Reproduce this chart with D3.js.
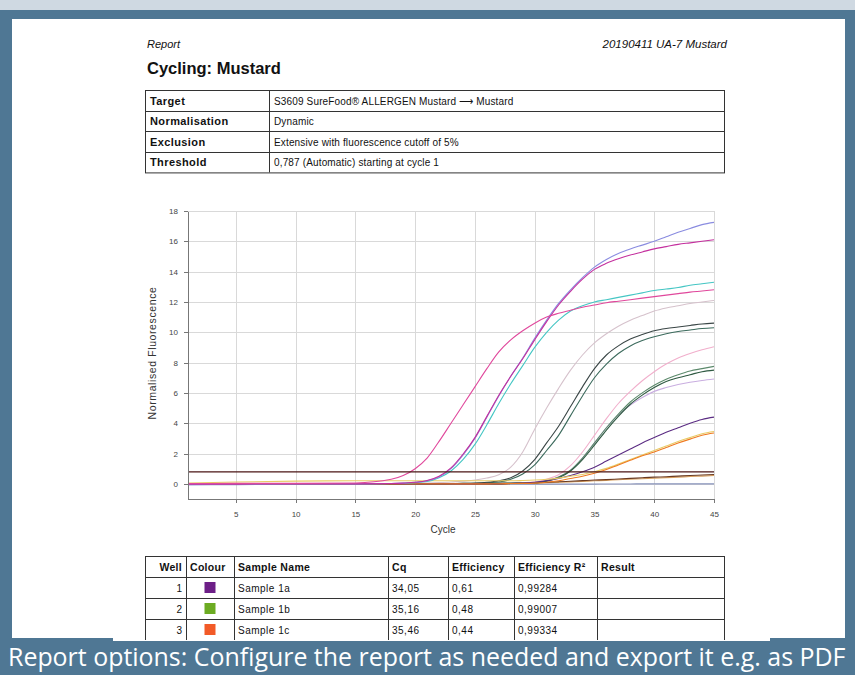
<!DOCTYPE html>
<head>
<meta charset="utf-8">
<script src="https://cdn.jsdelivr.net/npm/d3@7"></script>
<style>
body { margin: 0; background: #cfd9e2; }
svg { display: block; }
.rep { font-family: "Liberation Sans", Arial, sans-serif; fill: #111; }
.axis path, .axis line { stroke: #777; shape-rendering: crispEdges; }
.axis text { fill: #444; font: 8px "Liberation Sans", Arial, sans-serif; }
.grid line { stroke: #d9d9d9; shape-rendering: crispEdges; }
.curve { fill: none; stroke-width: 1.1px; }
</style>
</head>
<body>
<div id="chart"></div>
<script>
var cycles = [1,5,10,15,18,19,20,21,22,23,24,25,26,27,28,29,30,31,32,33,34,35,36,37,38,39,40,41,42,43,44,45];

var blueBase   = [-0.06,-0.05,-0.04,-0.03,-0.03,-0.03,-0.03,-0.03,-0.03,-0.03,-0.03,-0.03,-0.03,-0.03,-0.03,-0.03,-0.02,-0.02,-0.02,-0.02,-0.02,-0.02,-0.01,-0.01,-0.01,0,0,0,0,0,0,0];
var yellowLine = [0.05,0.12,0.18,0.2,0.2,0.2,0.2,0.2,0.2,0.2,0.2,0.2,0.2,0.2,0.2,0.22,0.25,0.3,0.38,0.5,0.62,0.8,1.02,1.3,1.6,1.9,2.2,2.5,2.8,3.05,3.3,3.45];
var tanLow     = [0,0,0,0,0,0,0,0,0,0,0,0,0,0,0.01,0.03,0.05,0.07,0.1,0.13,0.16,0.2,0.23,0.27,0.3,0.34,0.37,0.41,0.44,0.48,0.51,0.55];
var brownLow   = [0,0,0,0,0,0,0,0,0,0,0,0,0,0,0.02,0.04,0.07,0.1,0.14,0.17,0.21,0.25,0.28,0.32,0.36,0.4,0.44,0.47,0.51,0.55,0.58,0.62];
var pinkEarly  = [0.02,0.03,0.03,0.06,0.3,0.55,1.0,1.7,2.8,4.0,5.2,6.4,7.6,8.7,9.5,10.1,10.6,11.0,11.25,11.45,11.65,11.8,11.95,12.05,12.15,12.25,12.35,12.45,12.55,12.65,12.72,12.8];
var blueLav    = [-0.05,-0.03,0,0,0.02,0.05,0.1,0.2,0.45,1.0,1.9,3.0,4.4,5.8,7.1,8.3,9.6,10.8,11.9,12.8,13.6,14.3,14.8,15.2,15.5,15.75,16.0,16.3,16.6,16.85,17.1,17.25];
var magenta    = [-0.03,-0.02,0,0,0.02,0.05,0.1,0.22,0.5,1.05,1.95,3.05,4.45,5.85,7.1,8.25,9.5,10.7,11.8,12.7,13.5,14.15,14.55,14.85,15.1,15.3,15.5,15.65,15.8,15.9,16.0,16.1];
var cyan       = [0,0,0,0,0.02,0.04,0.08,0.15,0.4,0.85,1.6,2.6,3.9,5.3,6.6,7.8,9.0,10.0,10.8,11.4,11.75,12.0,12.15,12.3,12.45,12.6,12.75,12.85,12.95,13.1,13.2,13.3];
var lightGrey  = [0,0,0,0,0,0,0.02,0.05,0.08,0.12,0.18,0.25,0.38,0.6,1.1,2.1,3.6,5.0,6.3,7.5,8.5,9.3,9.9,10.4,10.8,11.1,11.4,11.6,11.75,11.9,12.0,12.1];
var darkSlate  = [0,0,0,0,0,0,0,0,0.01,0.02,0.03,0.05,0.1,0.2,0.4,0.85,1.6,2.7,3.8,5.1,6.4,7.6,8.5,9.1,9.55,9.85,10.1,10.25,10.35,10.45,10.55,10.6];
var darkTeal   = [0,0,0,0,0,0,0,0,0.01,0.02,0.03,0.04,0.07,0.12,0.3,0.65,1.25,2.2,3.2,4.5,5.8,7.0,7.9,8.6,9.1,9.45,9.7,9.9,10.05,10.15,10.25,10.3];
var lightPink  = [0,0,0,0,0,0,0,0,0,0,0.01,0.02,0.03,0.04,0.06,0.08,0.12,0.3,0.6,1.2,2.1,3.2,4.3,5.3,6.1,6.8,7.4,7.9,8.3,8.6,8.85,9.05];
var greyGreen  = [0,0,0,0,0,0,0,0,0,0,0.01,0.02,0.03,0.04,0.05,0.06,0.08,0.2,0.45,0.9,1.7,2.7,3.7,4.6,5.4,6.0,6.5,6.9,7.2,7.45,7.6,7.75];
var darkGreen  = [0,0,0,0,0,0,0,0,0,0,0.01,0.02,0.03,0.03,0.04,0.05,0.06,0.18,0.4,0.85,1.6,2.55,3.55,4.45,5.25,5.85,6.35,6.75,7.0,7.2,7.4,7.5];
var lavender   = [0,0,0,0,0,0,0,0,0,0,0.01,0.02,0.03,0.04,0.05,0.06,0.08,0.2,0.45,0.9,1.7,2.7,3.7,4.55,5.2,5.7,6.1,6.35,6.55,6.7,6.82,6.92];
var purple     = [0,0,0,0,0,0,0,0,0,0,0,0,0.01,0.01,0.02,0.05,0.1,0.2,0.35,0.55,0.8,1.1,1.5,1.9,2.3,2.7,3.05,3.4,3.7,4.0,4.25,4.4];
var orange     = [0,0,0,0,0,0,0,0,0,0,0,0,0,0.01,0.02,0.03,0.05,0.1,0.2,0.35,0.5,0.7,0.95,1.25,1.55,1.85,2.1,2.4,2.7,2.95,3.2,3.35];

var threshold = 0.787;
var xTicks = [5,10,15,20,25,30,35,40,45];
var yTicks = [0,2,4,6,8,10,12,14,16,18];

var infoLabels = ["Target", "Normalisation", "Exclusion", "Threshold"];
var infoValues = ["S3609 SureFood\u00AE ALLERGEN Mustard \u27F6 Mustard", "Dynamic",
                  "Extensive with fluorescence cutoff of 5%", "0,787 (Automatic) starting at cycle 1"];

var headers = ["Well", "Colour", "Sample Name", "Cq", "Efficiency", "Efficiency R\u00B2", "Result"];
var wells = [1, 2, 3];
var sampleColours = ["#6d1f87", "#6cab22", "#f25a28"];
var sampleNames = ["Sample 1a", "Sample 1b", "Sample 1c"];
var cqs = ["34,05", "35,16", "35,46"];
var effs = ["0,61", "0,48", "0,44"];
var effR2 = ["0,99284", "0,99007", "0,99334"];

var caption = "Report options: Configure the report as needed and export it e.g. as PDF";

// draw order: back to front
var series = [
  {values: blueBase,   color: "#8792bb"},
  {values: tanLow,     color: "#d8a060"},
  {values: brownLow,   color: "#6b3b22"},
  {values: lightGrey,  color: "#d6c2cc"},
  {values: lavender,   color: "#c9aee0"},
  {values: lightPink,  color: "#f1afcc"},
  {values: greyGreen,  color: "#5c8a6c"},
  {values: darkGreen,  color: "#2f5a42"},
  {values: darkTeal,   color: "#3b6a5c"},
  {values: darkSlate,  color: "#3a4646"},
  {values: purple,     color: "#5b2c83"},
  {values: yellowLine, color: "#e8cc66"},
  {values: orange,     color: "#ef7a22"},
  {values: cyan,       color: "#45c6c4"},
  {values: blueLav,    color: "#8a8ce0"},
  {values: magenta,    color: "#c4309e"},
  {values: pinkEarly,  color: "#e0489c"}
];

var W = 855, H = 675;
var svg = d3.select("#chart").append("svg").attr("width", W).attr("height", H);

// frame
svg.append("rect").attr("x", 0).attr("y", 10).attr("width", W).attr("height", H - 10).attr("fill", "#4f7794");
svg.append("rect").attr("x", 12).attr("y", 19).attr("width", 833).attr("height", 619).attr("fill", "#fff");
svg.append("rect").attr("x", 113).attr("y", 636).attr("width", 657).attr("height", 5).attr("fill", "#fff");

// header
svg.append("text").attr("class", "rep").attr("x", 147).attr("y", 48)
    .style("font-size", "11px").style("font-style", "italic").text("Report");
svg.append("text").attr("class", "rep").attr("x", 727).attr("y", 48).attr("text-anchor", "end")
    .style("font-size", "11.5px").style("font-style", "italic").text("20190411 UA-7 Mustard");
svg.append("text").attr("class", "rep").attr("x", 147).attr("y", 74)
    .style("font-size", "16.5px").style("font-weight", "bold").text("Cycling: Mustard");

// info table
var infoTop = 90, infoRow = 20.6, infoLeft = 145, infoRight = 724, infoDiv = 269;
var info = svg.append("g");
info.append("rect").attr("x", infoLeft + 0.5).attr("y", infoTop + 0.5)
    .attr("width", infoRight - infoLeft).attr("height", infoRow * infoLabels.length)
    .attr("fill", "none").attr("stroke", "#333");
info.append("line").attr("x1", infoDiv + 0.5).attr("x2", infoDiv + 0.5)
    .attr("y1", infoTop).attr("y2", infoTop + infoRow * infoLabels.length).attr("stroke", "#333");
infoLabels.forEach(function(l, i) {
  var y0 = infoTop + infoRow * i;
  if (i > 0) info.append("line").attr("x1", infoLeft).attr("x2", infoRight)
      .attr("y1", Math.round(y0) + 0.5).attr("y2", Math.round(y0) + 0.5).attr("stroke", "#333");
  info.append("text").attr("class", "rep").attr("x", 150).attr("y", y0 + 14.5)
      .style("font-size", "11px").style("font-weight", "bold").style("letter-spacing", "0.4px").text(l);
  info.append("text").attr("class", "rep").attr("x", 274).attr("y", y0 + 14.5)
      .style("font-size", "10px").style("letter-spacing", "0.15px").text(infoValues[i]);
});

// chart
var x = d3.scaleLinear().domain([1, 45]).range([188, 714]);
var y = d3.scaleLinear().domain([-1, 18]).range([499, 211]);

var grid = svg.append("g").attr("class", "grid");
grid.selectAll(".gy").data(yTicks).enter().append("line")
    .attr("x1", x(1)).attr("x2", x(45))
    .attr("y1", function(d) { return Math.round(y(d)) + 0.5; })
    .attr("y2", function(d) { return Math.round(y(d)) + 0.5; });
grid.selectAll(".gx").data(xTicks).enter().append("line")
    .attr("y1", y(-1)).attr("y2", y(18))
    .attr("x1", function(d) { return Math.round(x(d)) + 0.5; })
    .attr("x2", function(d) { return Math.round(x(d)) + 0.5; });

var line = d3.line()
    .x(function(d) { return x(d[0]); })
    .y(function(d) { return y(d[1]); })
    .curve(d3.curveMonotoneX);

svg.append("g").selectAll("path").data(series).enter().append("path")
    .attr("class", "curve")
    .attr("stroke", function(d) { return d.color; })
    .attr("d", function(d) { return line(cycles.map(function(c, i) { return [c, d.values[i]]; })); });

// threshold
svg.append("line").attr("x1", x(1)).attr("x2", x(45))
    .attr("y1", y(threshold)).attr("y2", y(threshold))
    .attr("stroke", "#4a1414").attr("stroke-width", 1.3);

svg.append("g").attr("class", "axis")
    .attr("transform", "translate(" + x(1) + ",0)")
    .call(d3.axisLeft(y).tickValues(yTicks).tickSize(4).tickSizeOuter(0).tickPadding(6));
svg.append("g").attr("class", "axis")
    .attr("transform", "translate(0," + y(-1) + ")")
    .call(d3.axisBottom(x).tickValues(xTicks).tickSize(4).tickSizeOuter(0).tickPadding(8));

svg.append("text").attr("class", "rep")
    .attr("transform", "translate(156,353) rotate(-90)")
    .attr("text-anchor", "middle").style("font-size", "10.5px").style("letter-spacing", "0.6px")
    .style("fill", "#333").text("Normalised Fluorescence");
svg.append("text").attr("class", "rep").attr("x", 443).attr("y", 533)
    .attr("text-anchor", "middle").style("font-size", "10px").style("fill", "#333").text("Cycle");

// sample table
var colX = [145, 186, 234, 388, 448, 514, 597, 724];
var rowY = [556, 577, 598, 619, 640];
var tab = svg.append("g");
rowY.forEach(function(ry, i) {
  if (i < rowY.length - 1) tab.append("line").attr("x1", colX[0]).attr("x2", colX[colX.length - 1])
      .attr("y1", ry + 0.5).attr("y2", ry + 0.5).attr("stroke", "#333");
});
colX.forEach(function(cx) {
  tab.append("line").attr("x1", cx + 0.5).attr("x2", cx + 0.5)
      .attr("y1", rowY[0]).attr("y2", rowY[rowY.length - 1]).attr("stroke", "#333");
});
headers.forEach(function(h, j) {
  tab.append("text").attr("class", "rep")
      .attr("x", j == 0 ? colX[1] - 4 : colX[j] + 4).attr("y", rowY[0] + 14.5)
      .attr("text-anchor", j == 0 ? "end" : "start")
      .style("font-size", "10.5px").style("font-weight", "bold").style("letter-spacing", "0.3px").text(h);
});
wells.forEach(function(w, i) {
  var ty = rowY[i + 1] + 14.5;
  tab.append("text").attr("class", "rep").attr("x", colX[1] - 4).attr("y", ty)
      .attr("text-anchor", "end").style("font-size", "10px").text(w);
  tab.append("rect").attr("x", (colX[1] + colX[2]) / 2 - 5.5).attr("y", rowY[i + 1] + 5)
      .attr("width", 11).attr("height", 11).attr("fill", sampleColours[i]);
  [sampleNames[i], cqs[i], effs[i], effR2[i]].forEach(function(t, k) {
    tab.append("text").attr("class", "rep").attr("x", colX[k + 2] + 4).attr("y", ty)
        .style("font-size", "10px").style("letter-spacing", "0.5px").text(t);
  });
});

// caption bar
svg.append("rect").attr("x", 0).attr("y", 641).attr("width", W).attr("height", H - 641).attr("fill", "#4f7794");
var cap = svg.append("text").attr("x", 8).attr("y", 666)
    .style("font-family", "'Open Sans', sans-serif").style("font-size", "22px")
    .style("fill", "#fff").text(caption);
var len = cap.node().getComputedTextLength();
cap.style("font-size", (22 * 838 / len) + "px");
</script>
</body>
